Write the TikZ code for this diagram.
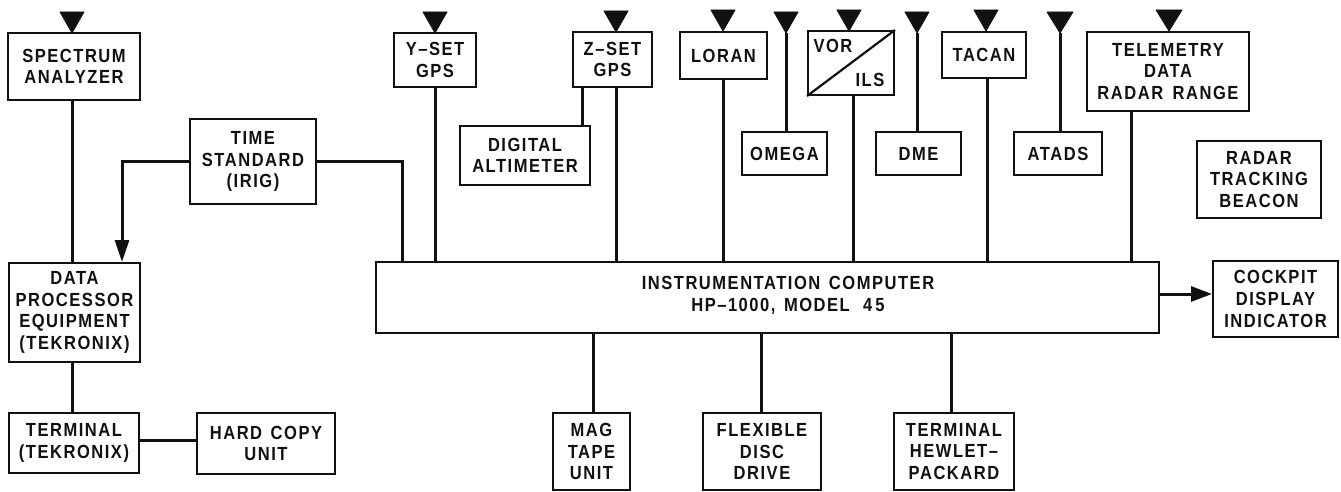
\documentclass[tikz,border=0pt]{standalone}
\usepackage{fontspec}
\setmainfont{Liberation Sans}[LetterSpace=8,WordSpace=1.4,FakeStretch=0.87]
\usetikzlibrary{arrows.meta}
\definecolor{ink}{HTML}{111111}
\tikzset{
  bx/.style={draw=ink,line width=2pt,inner sep=0pt,align=center,font=\fontsize{19}{21.7}\selectfont\bfseries,text=ink},
  lbl/.style={inner sep=0pt,align=center,font=\fontsize{19}{21.7}\selectfont\bfseries,text=ink},
  wire/.style={draw=ink,line width=3pt},
  diag wire/.style={draw=ink,line width=2.2pt},
  ant/.style={fill=ink,draw=ink,line width=.8pt,line join=round}
}
% name x1 y1 x2 y2 text
\newcommand{\bxn}[6]{\node[bx,minimum width={(#4-#2)*1pt},minimum height={(#5-#3)*1pt}] (#1) at ({(#2+#4)/2},{(#3+#5)/2}) {#6};}
% vertical connector between two nodes at a given x
\newcommand{\vln}[3]{\coordinate (vx) at (#3,0); \draw[wire] (#1.south -| vx) -- (#2.north -| vx);}
% antenna: name, node, x, tip y, half width
\newcommand{\antn}[5]{\coordinate (#1) at (#3,#4); \fill[ant] (#1) -- ++(-#5,-21) -- ++(2*#5,0) -- cycle;}
\begin{document}
\begin{tikzpicture}[x=1pt,y=-1pt]
\useasboundingbox (0,0) rectangle (1341,492);
\bxn{spec}{8}{33}{140}{100}{SPECTRUM\\ANALYZER}
\bxn{time}{190}{119}{316}{204}{TIME\\STANDARD\\(IRIG)}
\bxn{data}{9}{263}{140}{362}{DATA\\PROCESSOR\\EQUIPMENT\\(TEKRONIX)}
\bxn{term}{9}{413}{139}{473}{TERMINAL\\(TEKRONIX)}
\bxn{hard}{197}{413}{335}{474}{HARD COPY\\UNIT}
\bxn{yset}{394}{33}{476}{87}{Y--SET\\GPS}
\bxn{zset}{573}{32}{652}{87}{Z--SET\\GPS}
\bxn{digi}{460}{126}{590}{185}{DIGITAL\\ALTIMETER}
\bxn{loran}{680}{32}{767}{79}{LORAN}
\bxn{omega}{742}{132}{827}{175}{OMEGA}
\bxn{vor}{808}{31}{894}{95}{}
\node[lbl] (vortxt) at (833,46) {VOR};
\node[lbl] (ilstxt) at (870,80) {ILS};
\bxn{dme}{876}{132}{961}{175}{DME}
\bxn{tacan}{942}{32}{1026}{78}{TACAN}
\bxn{atads}{1014}{132}{1102}{175}{ATADS}
\bxn{tele}{1087}{32}{1249}{111}{TELEMETRY\\DATA\\RADAR\hspace{.5em}RANGE}
\bxn{beacon}{1197}{141}{1321}{218}{RADAR\\TRACKING\\BEACON}
\bxn{comp}{376}{262}{1159}{333}{}
\node[lbl] (comptxt) at (788,295.5) {INSTRUMENTATION COMPUTER\\HP--1000, MODEL\hspace{.7em}4\,5};
\bxn{cock}{1213}{261}{1338}{337}{COCKPIT\\DISPLAY\\INDICATOR}
\bxn{mag}{553}{413}{630}{490}{MAG\\TAPE\\UNIT}
\bxn{flex}{703}{413}{821}{490}{FLEXIBLE\\DISC\\DRIVE}
\bxn{hp}{894}{413}{1014}{490}{TERMINAL\\HEWLET--\\PACKARD}
\draw[diag wire] (vor.south west) -- (vor.north east);
% connectors
\vln{spec}{data}{72}
\vln{data}{term}{72}
\draw[wire] (term.east |- 0,440) -- (hard.west |- 0,440);
\coordinate (tl) at (122,161);
\coordinate (tr) at (402,161);
\draw[wire,-{Triangle[length=22pt,width=14pt]}] (time.west |- tl) -- (tl) -- (data.north -| tl);
\draw[wire] (time.east |- tr) -- (tr) -- (comp.north -| tr);
\vln{yset}{comp}{435}
\vln{zset}{comp}{616}
\vln{zset}{digi}{582}
\vln{loran}{comp}{723}
\vln{vor}{comp}{853}
\vln{tacan}{comp}{987}
\vln{tele}{comp}{1131}
\vln{comp}{mag}{593}
\vln{comp}{flex}{761}
\vln{comp}{hp}{951}
\draw[wire,-{Triangle[length=21pt,width=15pt]}] (comp.east |- 0,294) -- (cock.west |- 0,294);
% antennas
\antn{a1}{spec}{72}{33}{12}
\antn{a2}{yset}{435}{33}{12}
\antn{a3}{zset}{616}{32}{12}
\antn{a4}{loran}{723}{31}{12}
\antn{a5}{omega}{786}{33}{12}
\antn{a6}{vor}{849}{31}{12}
\antn{a7}{dme}{917}{33}{12}
\antn{a8}{tacan}{986}{31}{12}
\antn{a9}{atads}{1060}{33}{13}
\antn{a10}{tele}{1169}{31}{13}
\draw[wire] (a5) -- (omega.north -| a5);
\draw[wire] (a7) -- (dme.north -| a7);
\draw[wire] (a9) -- (atads.north -| a9);
\end{tikzpicture}
\end{document}
